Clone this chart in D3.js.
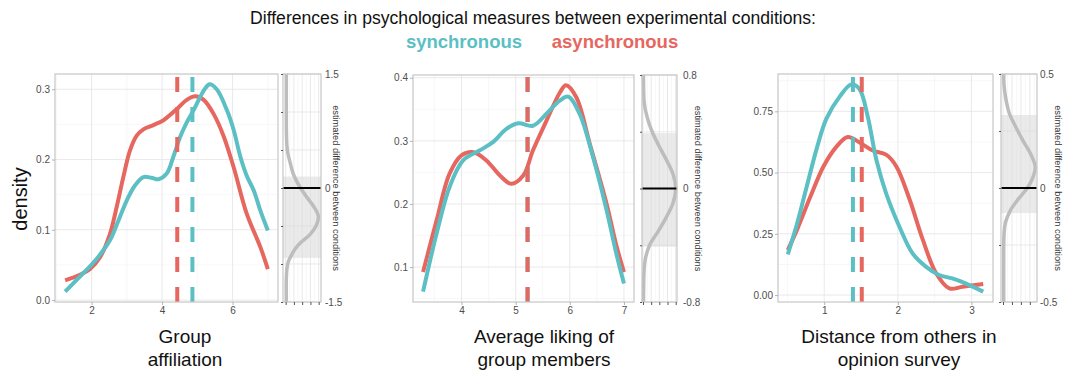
<!DOCTYPE html>
<html><head><meta charset="utf-8">
<script src="https://cdn.jsdelivr.net/npm/d3@7"></script>
<style>
body{margin:0;background:#fff;}
svg{display:block;font-family:"Liberation Sans",Arial,Helvetica,sans-serif;}
</style>
</head><body>
<svg id="chart" width="1068" height="372"></svg>
<script>
// ---------------- DATA ----------------
const titleText = "Differences in psychological measures between experimental conditions:";
const conditions = ["synchronous", "asynchronous"];
const yAxisTitle = "density";
const sideAxisTitle = "estimated difference between conditions";

// Panel 1: Group affiliation
const p1Label = ["Group", "affiliation"];
const p1Sync = [[1.25,0.012],[1.6,0.030],[1.9,0.045],[2.2,0.062],[2.52,0.085],[2.76,0.113],[3.0,0.142],[3.23,0.163],[3.47,0.175],[3.7,0.174],[3.9,0.172],[4.13,0.18],[4.32,0.204],[4.51,0.232],[4.7,0.253],[4.89,0.27],[5.08,0.289],[5.22,0.301],[5.35,0.307],[5.55,0.300],[5.84,0.27],[6.03,0.242],[6.22,0.204],[6.4,0.177],[6.6,0.156],[6.79,0.127],[7.0,0.099]];
const p1Async = [[1.25,0.028],[1.67,0.036],[1.95,0.044],[2.24,0.061],[2.52,0.094],[2.71,0.132],[2.9,0.175],[3.09,0.213],[3.28,0.234],[3.47,0.243],[3.75,0.249],[4.04,0.256],[4.42,0.272],[4.7,0.285],[4.94,0.29],[5.18,0.285],[5.46,0.265],[5.74,0.234],[6.03,0.189],[6.4,0.123],[6.79,0.075],[7.0,0.044]];
const p1Means = {synchronous: 4.86, asynchronous: 4.43};
const p1XTicks = [2, 4, 6];
const p1YTicks = [0, 0.1, 0.2, 0.3];
const p1YFormat = ".1f";
const p1SideLimit = 1.5;
const p1SideTicks = [-1.5, -1, -0.5, 0, 0.5, 1, 1.5];
const p1SideLabels = [-1.5, 0, 1.5];
const p1Band = [-0.92, 0.15];
const p1Side = [[1.5,0.02],[1.0,0.02],[0.7,0.025],[0.55,0.04],[0.45,0.07],[0.36,0.12],[0.2,0.22],[0.1,0.32],[0.0,0.45],[-0.12,0.64],[-0.25,0.86],[-0.37,0.99],[-0.5,0.92],[-0.61,0.74],[-0.72,0.45],[-0.8,0.29],[-0.88,0.18],[-0.97,0.08],[-1.06,0.04],[-1.2,0.02],[-1.5,0.02]];

// Panel 2: Average liking of group members
const p2Label = ["Average liking of", "group members"];
const p2Sync = [[3.29,0.061],[3.54,0.153],[3.78,0.227],[4.03,0.269],[4.34,0.285],[4.58,0.298],[4.83,0.319],[5.05,0.328],[5.32,0.324],[5.57,0.343],[5.82,0.364],[5.97,0.370],[6.18,0.343],[6.43,0.274],[6.68,0.19],[6.86,0.121],[7.0,0.074]];
const p2Async = [[3.29,0.092],[3.54,0.174],[3.78,0.248],[4.0,0.277],[4.22,0.282],[4.46,0.269],[4.71,0.245],[4.92,0.232],[5.14,0.245],[5.32,0.285],[5.57,0.332],[5.82,0.377],[5.93,0.388],[6.12,0.369],[6.37,0.295],[6.68,0.2],[6.86,0.134],[7.0,0.092]];
const p2Means = {synchronous: 5.22, asynchronous: 5.22};
const p2XTicks = [4, 5, 6, 7];
const p2YTicks = [0.1, 0.2, 0.3, 0.4];
const p2YFormat = ".1f";
const p2SideLimit = 0.8;
const p2SideTicks = [-0.8, -0.4, 0, 0.4, 0.8];
const p2SideLabels = [-0.8, 0, 0.8];
const p2Band = [-0.41, 0.39];
const p2Side = [[0.8,0.015],[0.7,0.02],[0.6,0.04],[0.5,0.13],[0.4,0.28],[0.3,0.49],[0.2,0.72],[0.1,0.92],[0.0,1.0],[-0.1,0.92],[-0.2,0.72],[-0.3,0.47],[-0.4,0.2],[-0.5,0.07],[-0.6,0.03],[-0.7,0.02],[-0.8,0.015]];

// Panel 3: Distance from others in opinion survey
const p3Label = ["Distance from others in", "opinion survey"];
const p3Sync = [[0.505,0.166],[0.63,0.29],[0.76,0.44],[0.9,0.60],[1.03,0.72],[1.21,0.81],[1.37,0.86],[1.48,0.84],[1.59,0.73],[1.71,0.55],[1.84,0.416],[2.02,0.28],[2.2,0.17],[2.38,0.116],[2.56,0.082],[2.74,0.068],[2.92,0.048],[3.16,0.014]];
const p3Async = [[0.505,0.184],[0.63,0.266],[0.81,0.40],[0.99,0.525],[1.17,0.607],[1.32,0.645],[1.48,0.623],[1.66,0.59],[1.84,0.573],[1.98,0.525],[2.16,0.39],[2.34,0.225],[2.52,0.089],[2.7,0.027],[2.88,0.034],[3.16,0.045]];
const p3Means = {synchronous: 1.39, asynchronous: 1.51};
const p3XTicks = [1, 2, 3];
const p3YTicks = [0, 0.25, 0.5, 0.75];
const p3YFormat = ".2f";
const p3SideLimit = 0.5;
const p3SideTicks = [-0.5, -0.25, 0, 0.25, 0.5];
const p3SideLabels = [-0.5, 0, 0.5];
const p3Band = [-0.11, 0.32];
const p3Side = [[0.5,0.02],[0.45,0.03],[0.4,0.07],[0.33,0.17],[0.27,0.35],[0.21,0.55],[0.15,0.77],[0.093,0.9],[0.04,0.82],[0.0,0.68],[-0.05,0.42],[-0.1,0.2],[-0.15,0.07],[-0.2,0.03],[-0.3,0.02],[-0.5,0.02]];

// ---------------- STYLE / LAYOUT ----------------
const colors = {synchronous: "#5BBFC4", asynchronous: "#E5675F"};
const layout = [
  {mx0:55,  mx1:278, sx0:283,  sx1:321,  y0:74, y1:302, labelX:185, sideLabX:325, sideTitleX:333, sideDom:[-0.08,1.07], sideX:[0,0.25,0.5,0.75,1]},
  {mx0:413, mx1:634, sx0:642,  sx1:677,  y0:75, y1:302, labelX:544, sideLabX:683, sideTitleX:695, sideDom:[-0.03,1.04], sideX:[0,0.25,0.5,0.75,1]},
  {mx0:778, mx1:993, sx0:1001, sx1:1037, y0:74, y1:302, labelX:899, sideLabX:1040, sideTitleX:1055, sideDom:[-0.056,0.95], sideX:[0,0.25,0.5,0.75]}
];
const panels = [
  {sync:p1Sync, async:p1Async, means:p1Means, xTicks:p1XTicks, yTicks:p1YTicks, yFmt:p1YFormat, lim:p1SideLimit, sTicks:p1SideTicks, sLabels:p1SideLabels, band:p1Band, side:p1Side, label:p1Label},
  {sync:p2Sync, async:p2Async, means:p2Means, xTicks:p2XTicks, yTicks:p2YTicks, yFmt:p2YFormat, lim:p2SideLimit, sTicks:p2SideTicks, sLabels:p2SideLabels, band:p2Band, side:p2Side, label:p2Label},
  {sync:p3Sync, async:p3Async, means:p3Means, xTicks:p3XTicks, yTicks:p3YTicks, yFmt:p3YFormat, lim:p3SideLimit, sTicks:p3SideTicks, sLabels:p3SideLabels, band:p3Band, side:p3Side, label:p3Label}
];

const svg = d3.select("#chart");
const BORDER = "#c6c6c6", GRID = "#e6e6e6", GRIDMIN = "#f2f2f2", TICK = "#b3b3b3", TXT = "#4d4d4d";

// title + legend
svg.append("text").attr("x", 533).attr("y", 24).attr("text-anchor","middle")
  .attr("font-size", 17.6).attr("fill","#111").text(titleText);
svg.append("text").attr("x", 464).attr("y", 48).attr("text-anchor","middle")
  .attr("font-size", 18.5).attr("font-weight","bold").attr("fill", colors.synchronous).text(conditions[0]);
svg.append("text").attr("x", 615).attr("y", 48).attr("text-anchor","middle")
  .attr("font-size", 18.5).attr("font-weight","bold").attr("fill", colors.asynchronous).text(conditions[1]);

// y axis title
svg.append("text").attr("transform","translate(27,199) rotate(-90)").attr("text-anchor","middle")
  .attr("font-size", 20).attr("fill","#111").text(yAxisTitle);

function expand(ext){ const r = ext[1]-ext[0]; return [ext[0]-0.05*r, ext[1]+0.05*r]; }
function minorTicks(ticks, dom){
  const step = ticks[1]-ticks[0]; const out=[];
  for(let v = ticks[0]-step/2; v <= dom[1]; v += step){ if(v>=dom[0]) out.push(v); }
  return out;
}

panels.forEach((p, i) => {
  const L = layout[i];
  const all = p.sync.concat(p.async);
  const x = d3.scaleLinear().domain(expand(d3.extent(all, d=>d[0]))).range([L.mx0, L.mx1]);
  const y = d3.scaleLinear().domain(expand(d3.extent(all, d=>d[1]))).range([L.y1, L.y0]);
  const g = svg.append("g");

  // minor grid
  minorTicks(p.xTicks, x.domain()).forEach(v => g.append("line").attr("x1",x(v)).attr("x2",x(v)).attr("y1",L.y0).attr("y2",L.y1).attr("stroke",GRIDMIN).attr("stroke-width",0.6));
  minorTicks(p.yTicks, y.domain()).forEach(v => g.append("line").attr("x1",L.mx0).attr("x2",L.mx1).attr("y1",y(v)).attr("y2",y(v)).attr("stroke",GRIDMIN).attr("stroke-width",0.6));
  // major grid
  p.xTicks.forEach(v => g.append("line").attr("x1",x(v)).attr("x2",x(v)).attr("y1",L.y0).attr("y2",L.y1).attr("stroke",GRID).attr("stroke-width",0.9));
  p.yTicks.forEach(v => g.append("line").attr("x1",L.mx0).attr("x2",L.mx1).attr("y1",y(v)).attr("y2",y(v)).attr("stroke",GRID).attr("stroke-width",0.9));

  // curves
  const line = d3.line().x(d=>x(d[0])).y(d=>y(d[1])).curve(d3.curveCatmullRom.alpha(0.5));
  const clipId = "clip"+i;
  svg.append("clipPath").attr("id",clipId).append("rect").attr("x",L.mx0).attr("y",L.y0).attr("width",L.mx1-L.mx0).attr("height",L.y1-L.y0);
  const inner = g.append("g").attr("clip-path", `url(#${clipId})`);
  inner.append("path").datum(p.async).attr("d",line).attr("fill","none").attr("stroke",colors.asynchronous).attr("stroke-width",4).attr("stroke-linecap","butt");
  inner.append("path").datum(p.sync).attr("d",line).attr("fill","none").attr("stroke",colors.synchronous).attr("stroke-width",4).attr("stroke-linecap","butt");
  // mean lines (dashed)
  ["synchronous","asynchronous"].forEach(c => {
    inner.append("line").attr("x1",x(p.means[c])).attr("x2",x(p.means[c])).attr("y1",L.y1).attr("y2",L.y0)
      .attr("stroke",colors[c]).attr("stroke-width",4).attr("stroke-dasharray","15,15");
  });

  // border
  g.append("rect").attr("x",L.mx0).attr("y",L.y0).attr("width",L.mx1-L.mx0).attr("height",L.y1-L.y0)
    .attr("fill","none").attr("stroke",BORDER).attr("stroke-width",1.2);

  // axes
  const ax = g.append("g").attr("transform",`translate(0,${L.y1})`)
    .call(d3.axisBottom(x).tickValues(p.xTicks).tickSize(3).tickPadding(2).tickFormat(d3.format("d")));
  const ay = g.append("g").attr("transform",`translate(${L.mx0},0)`)
    .call(d3.axisLeft(y).tickValues(p.yTicks).tickSize(3).tickPadding(2).tickFormat(d3.format(p.yFmt)));
  [ax, ay].forEach(a => {
    a.select(".domain").remove();
    a.selectAll(".tick line").attr("stroke",TICK).attr("stroke-width",1);
    a.selectAll(".tick text").attr("fill",TXT).attr("font-size",10).attr("font-family","Liberation Sans, Arial, sans-serif");
  });

  // x label
  p.label.forEach((t, k) => {
    svg.append("text").attr("x",L.labelX).attr("y",343 + k*23).attr("text-anchor","middle")
      .attr("font-size",19).attr("fill","#111").text(t);
  });

  // ---------- side panel ----------
  const sx = d3.scaleLinear().domain(L.sideDom).range([L.sx0, L.sx1]);
  const sy = d3.scaleLinear().domain([-p.lim, p.lim]).range([L.y1, L.y0]);
  const s = svg.append("g");
  const sMinor = minorTicks(L.sideX, L.sideDom);
  sMinor.forEach(v => s.append("line").attr("x1",sx(v)).attr("x2",sx(v)).attr("y1",L.y0).attr("y2",L.y1).attr("stroke",GRIDMIN).attr("stroke-width",0.6));
  L.sideX.forEach(v => s.append("line").attr("x1",sx(v)).attr("x2",sx(v)).attr("y1",L.y0).attr("y2",L.y1).attr("stroke",GRID).attr("stroke-width",0.9));
  p.sTicks.forEach(v => s.append("line").attr("x1",L.sx0).attr("x2",L.sx1).attr("y1",sy(v)).attr("y2",sy(v)).attr("stroke",GRID).attr("stroke-width",0.9));
  // CI band
  s.append("rect").attr("x",L.sx0).attr("width",L.sx1-L.sx0)
    .attr("y",sy(p.band[1])).attr("height",sy(p.band[0])-sy(p.band[1]))
    .attr("fill","#d9d9d9").attr("fill-opacity",0.55);
  // posterior density curve
  const sline = d3.line().x(d=>sx(d[1])).y(d=>sy(d[0])).curve(d3.curveCatmullRom.alpha(0.5));
  s.append("path").datum(p.side).attr("d",sline).attr("fill","none").attr("stroke","#bdbdbd").attr("stroke-width",3.5);
  // zero line
  s.append("line").attr("x1",L.sx0).attr("x2",L.sx1).attr("y1",sy(0)).attr("y2",sy(0)).attr("stroke","#000").attr("stroke-width",2);
  // border
  s.append("rect").attr("x",L.sx0).attr("y",L.y0).attr("width",L.sx1-L.sx0).attr("height",L.y1-L.y0)
    .attr("fill","none").attr("stroke",BORDER).attr("stroke-width",1.2);
  // left ticks (no labels)
  const sl = s.append("g").attr("transform",`translate(${L.sx0},0)`).call(d3.axisLeft(sy).tickValues(p.sTicks).tickSize(2).tickFormat(""));
  const sb = s.append("g").attr("transform",`translate(0,${L.y1})`).call(d3.axisBottom(sx).tickValues(L.sideX).tickSize(3).tickFormat(""));
  [sl, sb].forEach(a => { a.select(".domain").remove(); a.selectAll(".tick line").attr("stroke","#555").attr("stroke-width",1); });
  // right labels
  p.sLabels.forEach(v => {
    s.append("text").attr("x",L.sideLabX).attr("y",sy(v)+3.5).attr("font-size",10).attr("fill",TXT)
      .text(String(v));
  });
  // side axis title
  s.append("text").attr("transform",`translate(${L.sideTitleX},${(L.y0+L.y1)/2}) rotate(90)`)
    .attr("text-anchor","middle").attr("font-size",9.3).attr("fill","#333").text(sideAxisTitle);
});
</script>
</body></html>
